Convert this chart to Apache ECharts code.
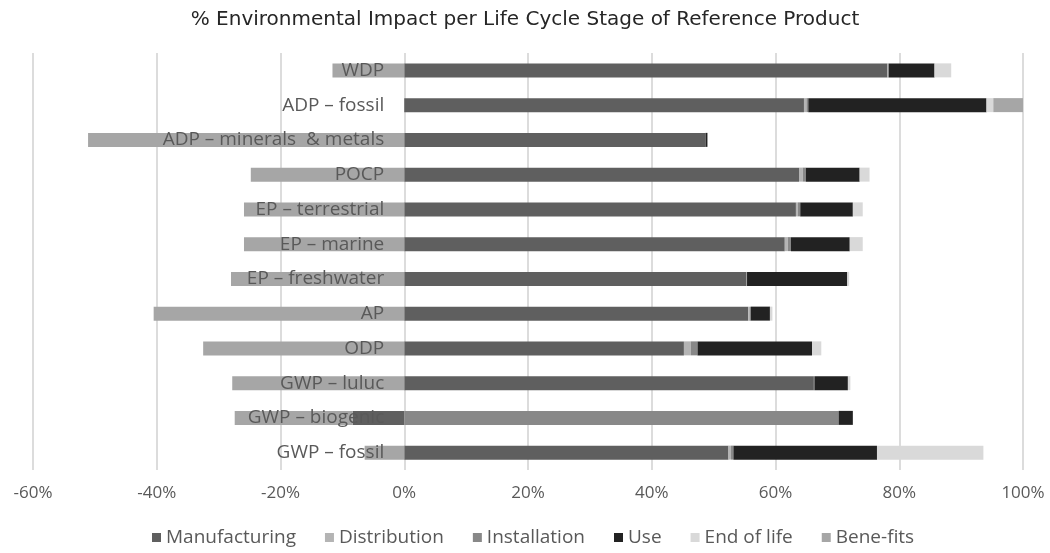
<!DOCTYPE html>
<html>
<head>
<meta charset="utf-8">
<script src="https://cdn.jsdelivr.net/npm/echarts@6/dist/echarts.min.js"></script>
<style>
html,body{margin:0;padding:0;background:#fff;}
#chart{width:1050px;height:553px;}
</style>
</head>
<body>
<div id="chart"></div>
<script>
// Categories listed bottom to top (ECharts category y-axis starts at the bottom)
const categories = ['GWP – fossil','GWP – biogenic','GWP – luluc','ODP','AP','EP – freshwater','EP – marine','EP – terrestrial','POCP','ADP – minerals  & metals','ADP – fossil','WDP'];
const manufacturing = [52.4, -8.3, 66.2, 45.2, 55.6, 55.3, 61.5, 63.3, 63.8, 48.7, 64.6, 78.1];
const distribution  = [0.4, 0, 0, 1.1, 0.2, 0, 0.5, 0.3, 0.6, 0, 0.4, 0.1];
const installation  = [0.4, 70.2, 0.1, 1.1, 0.2, 0.1, 0.5, 0.4, 0.5, 0, 0.3, 0.1];
const use           = [23.2, 2.3, 5.4, 18.5, 3.1, 16.2, 9.5, 8.5, 8.7, 0.3, 28.8, 7.4];
const endOfLife     = [17.2, 0, 0.4, 1.5, 0.4, 0.3, 2.1, 1.6, 1.6, 0, 1.1, 2.7];
const benefits      = [-6.4, -19.1, -27.8, -32.5, -40.5, -28.0, -25.9, -25.9, -24.8, -51.1, 4.8, -11.6];
const xTicks = {min: -60, max: 100, interval: 20};

const seriesDefs = [
  {name: 'Manufacturing', data: manufacturing, color: '#5f5f5f'},
  {name: 'Distribution', data: distribution, color: '#b4b4b4'},
  {name: 'Installation', data: installation, color: '#888888'},
  {name: 'Use', data: use, color: '#222222'},
  {name: 'End of life', data: endOfLife, color: '#d9d9d9'},
  {name: 'Bene-fits', data: benefits, color: '#a6a6a6'}
];

const W = 1050, gridLeft = 33, gridRight = 27;
const gridWidth = W - gridLeft - gridRight;
// place the category axis at the zero line of the value axis
const zeroOffset = gridWidth * (0 - xTicks.min) / (xTicks.max - xTicks.min);

const chart = echarts.init(document.getElementById('chart'), null, {renderer: 'canvas'});
chart.setOption({
  animation: false,
  backgroundColor: '#ffffff',
  title: {
    text: '% Environmental Impact per Life Cycle Stage of Reference Product',
    left: 'center', top: 5,
    textStyle: {fontFamily: 'DejaVu Sans', fontSize: 20, fontWeight: 'normal', color: '#262626'}
  },
  legend: {
    bottom: 1, left: 147,
    icon: 'rect', itemWidth: 9, itemHeight: 9, itemGap: 29,
    textStyle: {fontFamily: 'Open Sans', fontSize: 19, color: '#595959'},
    data: seriesDefs.map(s => s.name)
  },
  grid: {left: gridLeft, right: gridRight, top: 53, bottom: 83, containLabel: false, outerBoundsMode: 'none'},
  xAxis: {
    type: 'value', min: xTicks.min, max: xTicks.max, interval: xTicks.interval,
    axisLine: {show: false}, axisTick: {show: false},
    splitLine: {show: true, lineStyle: {color: '#dcdcdc', width: 2}},
    axisLabel: {formatter: '{value}%', fontFamily: 'Open Sans', fontSize: 17, color: '#595959', margin: 15}
  },
  yAxis: {
    type: 'category', data: categories, z: 10,
    offset: -zeroOffset,
    axisLine: {show: false, onZero: false}, axisTick: {show: false},
    axisLabel: {fontFamily: 'Open Sans', fontSize: 19, color: '#595959', margin: 20}
  },
  series: seriesDefs.map(s => ({
    name: s.name, type: 'bar', stack: 'total', data: s.data,
    barWidth: 14, itemStyle: {color: s.color}
  }))
});
</script>
</body>
</html>
